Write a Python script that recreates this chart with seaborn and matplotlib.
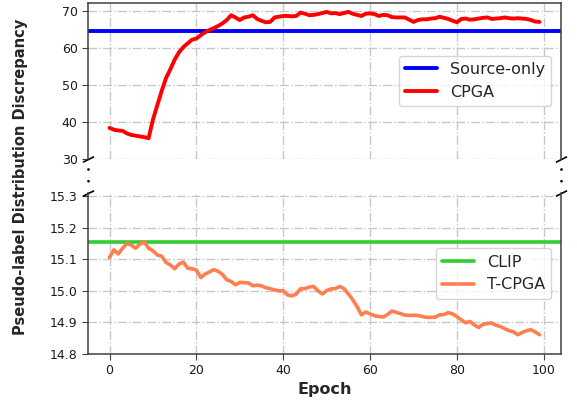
import matplotlib
matplotlib.use("Agg")
import matplotlib.pyplot as plt
from matplotlib.lines import Line2D
import seaborn as sns
import numpy as np

# values
epochs = list(range(100))
source_only = 64.5
clip = 15.156
cpga = [38.4, 37.9, 37.7, 37.6, 36.9, 36.5, 36.3, 36.1, 35.9, 35.6,
        40.6, 44.5, 48.3, 51.8, 54.2, 56.8, 58.8, 60.2, 61.2, 62.2,
        62.5, 63.4, 64.2, 64.8, 65.3, 65.9, 66.6, 67.5, 68.8, 68.2,
        67.5, 68.2, 68.4, 68.8, 67.8, 67.3, 66.9, 67.0, 68.2, 68.4,
        68.6, 68.6, 68.5, 68.6, 69.5, 69.2, 68.8, 68.9, 69.1, 69.4,
        69.7, 69.3, 69.4, 69.1, 69.4, 69.7, 69.2, 68.9, 68.6, 69.2,
        69.3, 69.1, 68.6, 68.9, 68.8, 68.3, 68.2, 68.2, 68.2, 67.6,
        67.0, 67.5, 67.7, 67.7, 67.9, 68.0, 68.4, 68.1, 67.8, 67.3,
        66.9, 67.8, 67.9, 67.6, 67.7, 67.9, 68.1, 68.2, 67.8, 67.9,
        68.0, 68.2, 68.0, 67.9, 68.0, 67.9, 67.8, 67.5, 67.1, 67.0]
t_cpga = [15.106, 15.130, 15.117, 15.135, 15.150, 15.145, 15.135, 15.148, 15.155, 15.135,
          15.127, 15.114, 15.110, 15.090, 15.082, 15.070, 15.085, 15.091, 15.072, 15.070,
          15.066, 15.042, 15.053, 15.060, 15.067, 15.062, 15.052, 15.035, 15.030, 15.019,
          15.027, 15.026, 15.025, 15.016, 15.018, 15.016, 15.010, 15.007, 15.003, 15.000,
          15.000, 14.987, 14.984, 14.990, 15.007, 15.007, 15.012, 15.014, 15.000, 14.990,
          15.001, 15.006, 15.007, 15.014, 15.007, 14.990, 14.972, 14.950, 14.924, 14.933,
          14.927, 14.921, 14.919, 14.917, 14.925, 14.936, 14.932, 14.928, 14.923, 14.922,
          14.923, 14.922, 14.919, 14.916, 14.916, 14.917, 14.924, 14.925, 14.931, 14.927,
          14.918, 14.908, 14.899, 14.903, 14.892, 14.884, 14.894, 14.897, 14.898, 14.891,
          14.887, 14.880, 14.874, 14.870, 14.861, 14.868, 14.874, 14.877, 14.870, 14.861]

top_ticks = [30, 40, 50, 60, 70]
bottom_ticks = [14.8, 14.9, 15.0, 15.1, 15.2, 15.3]
x_ticks = [0, 20, 40, 60, 80, 100]

sns.set_style("ticks")
plt.rcParams['font.family'] = ['DejaVu Sans']

fig = plt.figure(figsize=(5.77, 4.07), dpi=100)
ax1 = fig.add_axes([88 / 577, 1 - 159 / 407, 473 / 577, 156 / 407])
ax2 = fig.add_axes([88 / 577, 1 - 354 / 407, 473 / 577, 161 / 407], sharex=ax1)

ax1.axhline(source_only, color='blue', lw=2.8, label='Source-only')
sns.lineplot(x=epochs, y=cpga, ax=ax1, color='red', lw=2.8, label='CPGA', legend=False)
ax2.axhline(clip, color='limegreen', lw=2.6, label='CLIP')
sns.lineplot(x=epochs, y=t_cpga, ax=ax2, color='coral', lw=2.6, label='T-CPGA', legend=False)

ax1.set_ylim(30, 72.1)
ax2.set_ylim(14.8, 15.31)
ax1.set_yticks(top_ticks)
ax2.set_yticks(bottom_ticks)
ax2.set_yticklabels([f'{t:.1f}' for t in bottom_ticks])
ax2.set_xticks(x_ticks)

for ax in (ax1, ax2):
    ax.grid(True, linestyle='-.', color='#c8c8c8', lw=1)
    ax.tick_params(labelsize=9, length=4, color='0.25', labelcolor='0.1')
    for s in ax.spines.values():
        s.set_color('0.25')
        s.set_linewidth(1.1)
    ax.set_ylabel('')
    ax.legend(loc='center right', fontsize=11.5, borderaxespad=0.6)

ax1.spines['bottom'].set_visible(False)
ax2.spines['top'].set_visible(False)
ax1.tick_params(bottom=False, labelbottom=False)
ax2.set_xlabel('Epoch', fontsize=11.5, fontweight='bold', labelpad=3)

# break marks
kw = dict(marker=[(-1, -0.5), (1, 0.5)], markersize=8, linestyle='none',
          color='k', mec='k', mew=1.2, clip_on=False)
ax1.plot([0, 1], [0, 0], transform=ax1.transAxes, **kw)
ax2.plot([0, 1], [1, 1], transform=ax2.transAxes, **kw)
for xf in (88 / 577, 561 / 577):
    fig.add_artist(Line2D([xf, xf], [1 - 169 / 407, 1 - 181 / 407], transform=fig.transFigure,
                          color='k', lw=2, linestyle=(0, (0.01, 4.2)), dash_capstyle='round'))

fig.text(0.035, 0.566, 'Pseudo-label Distribution Discrepancy', rotation=90,
         ha='center', va='center', fontsize=10.5, fontweight='bold')

fig.savefig('out.png', dpi=100)
